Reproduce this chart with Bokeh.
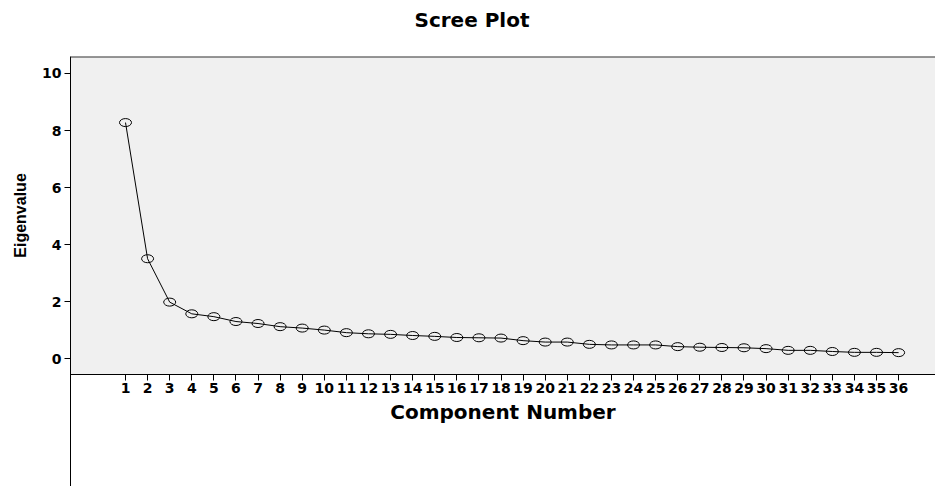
import math
from bokeh.plotting import figure
from bokeh.layouts import row
from bokeh.models import Range1d, FixedTicker, BoxAnnotation, Span, Label
from bokeh.embed import file_html
from bokeh.resources import INLINE

components = list(range(1, 37))
eigenvalues = [8.28, 3.51, 1.99, 1.58, 1.48, 1.31, 1.24, 1.13, 1.08, 1.01,
               0.92, 0.88, 0.86, 0.82, 0.79, 0.75, 0.74, 0.73, 0.64, 0.59,
               0.59, 0.51, 0.49, 0.49, 0.49, 0.43, 0.41, 0.40, 0.39, 0.36,
               0.30, 0.30, 0.26, 0.23, 0.23, 0.22]
y_ticks = [0, 2, 4, 6, 8, 10]

X0, X1 = -1.49, 37.67
Y0, Y1 = -4.47, 10.595
GREY_BOTTOM = -0.543
y_range = Range1d(Y0, Y1)

# narrow strip on the left that carries the y axis title
pl = figure(width=30, height=486, output_backend="svg", toolbar_location=None,
            x_range=Range1d(0, 30), y_range=y_range,
            min_border_left=0, min_border_right=0, min_border_top=56, min_border_bottom=0,
            background_fill_color="white", border_fill_color="white",
            outline_line_color=None)
pl.grid.visible = False
pl.axis.visible = False
pl.add_layout(Label(x=20, y=(GREY_BOTTOM + Y1) / 2, text="Eigenvalue",
                    angle=math.pi / 2, text_align="center", text_baseline="middle",
                    text_font="Liberation Sans", text_font_style="bold",
                    text_font_size="16px", text_color="black"))

p = figure(width=905, height=486, output_backend="svg", toolbar_location=None,
           x_range=Range1d(X0, X1), y_range=y_range,
           min_border_left=40, min_border_right=0, min_border_top=56, min_border_bottom=0,
           background_fill_color="white", border_fill_color="white",
           outline_line_color=None)
p.grid.visible = False

p.title.text = "Scree Plot\n"
p.title.align = "left"
p.title.offset = 344
p.title.standoff = 2
p.title.text_font = "DejaVu Sans"
p.title.text_font_style = "bold"
p.title.text_font_size = "20px"
p.title.text_color = "black"

p.add_layout(BoxAnnotation(bottom=GREY_BOTTOM, fill_color="#f0f0f0", fill_alpha=1,
                           line_color=None, level="underlay"))
p.add_layout(Span(location=Y1, dimension="width", line_color="#333333", line_width=2))

# x axis drawn at the bottom of the grey plot area
xa = p.xaxis[0]
xa.fixed_location = GREY_BOTTOM
xa.ticker = FixedTicker(ticks=components)
xa.major_tick_out = 6
xa.major_tick_in = 0
xa.minor_tick_line_color = None
xa.axis_line_color = "black"
xa.major_tick_line_color = "black"
xa.major_label_text_font = "DejaVu Sans"
xa.major_label_text_font_style = "bold"
xa.major_label_text_font_size = "14px"
xa.major_label_text_color = "black"
xa.major_label_standoff = 3
xa.axis_label = "Component Number"
xa.axis_label_text_font = "DejaVu Sans"
xa.axis_label_text_font_style = "bold"
xa.axis_label_text_font_size = "20px"
xa.axis_label_text_color = "black"
xa.axis_label_standoff = 3

# y axis (its line runs to the bottom of the page, as in the original export)
ya = p.yaxis[0]
ya.ticker = FixedTicker(ticks=y_ticks)
ya.major_tick_out = 6
ya.major_tick_in = 0
ya.minor_tick_line_color = None
ya.axis_line_color = "black"
ya.major_tick_line_color = "black"
ya.major_label_text_font = "DejaVu Sans"
ya.major_label_text_font_style = "bold"
ya.major_label_text_font_size = "14px"
ya.major_label_text_color = "black"
ya.major_label_standoff = 3

p.line(components, eigenvalues, line_color="black", line_width=1)
p.ellipse(x=components, y=eigenvalues, width=12, height=8,
          width_units="screen", height_units="screen",
          fill_color=None, line_color="black", line_width=1)

layout = row(pl, p, spacing=0)
open("out.html", "w").write(file_html(layout, INLINE))
